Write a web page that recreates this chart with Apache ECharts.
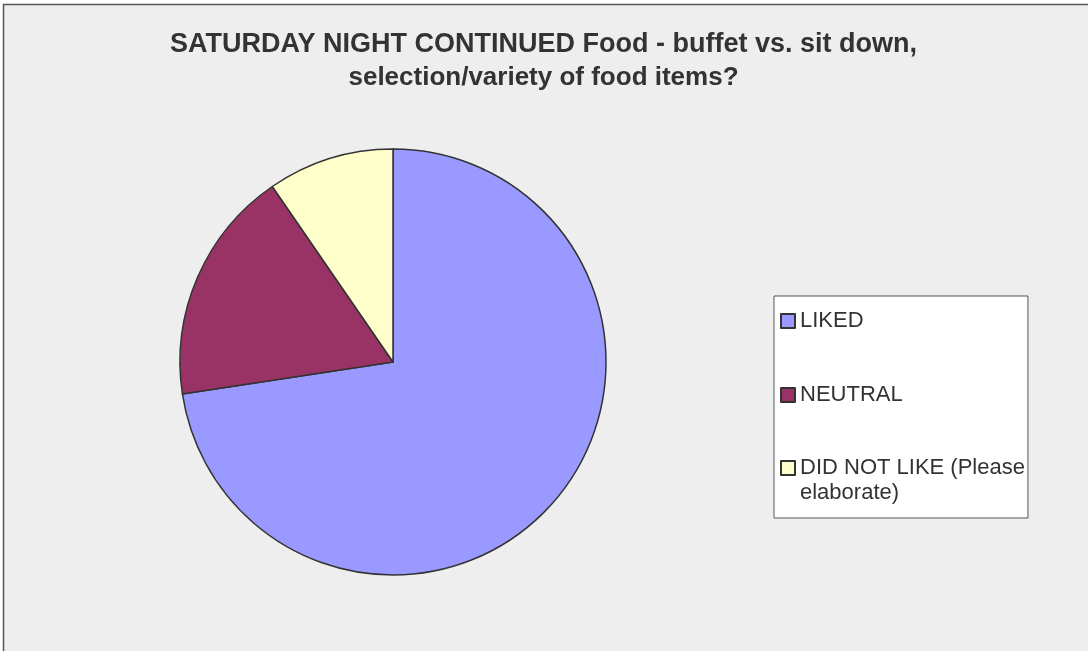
<!DOCTYPE html>
<html>
<head>
<meta charset="utf-8">
<script src="https://cdn.jsdelivr.net/npm/echarts@6/dist/echarts.min.js"></script>
<style>
html,body{margin:0;padding:0;background:#fff;}
#chart{width:1088px;height:651px;}
</style>
</head>
<body>
<div id="chart"></div>
<script>
const titleLines = ['SATURDAY NIGHT CONTINUED Food - buffet vs. sit down,', 'selection/variety of food items?'];
const categories = ['LIKED', 'NEUTRAL', 'DID NOT LIKE (Please elaborate)'];
const legendLines = [['LIKED'], ['NEUTRAL'], ['DID NOT LIKE (Please', 'elaborate)']];
const values = [53, 13, 7];
const colors = ['#9999FF', '#993366', '#FFFFCC'];

const chart = echarts.init(document.getElementById('chart'), null, {renderer: 'canvas'});
const FONT = '"Liberation Sans", Arial, sans-serif';

const data = categories.map((c, i) => ({name: c, value: values[i], itemStyle: {color: colors[i]}}));

// 14x40 icon box: square centred (single line) or aligned with the first of two lines
const iconCentered = 'path://M0,0M14,40M0,13L14,13L14,27L0,27Z';
const iconTop = 'path://M0,0M14,40M0,8L14,8L14,22L0,22Z';
const legendData = categories.map((c, i) => ({
  name: c,
  icon: legendLines[i].length > 1 ? iconTop : iconCentered
}));

function legendFormatter(name) {
  const lines = legendLines[categories.indexOf(name)];
  if (lines.length === 1) return lines[0];
  return '{l1|' + lines[0] + '}\n{l2|' + lines[1] + '}';
}

chart.setOption({
  animation: false,
  backgroundColor: '#ffffff',
  graphic: [{
    type: 'rect', z: -10, silent: true,
    shape: {x: 3.5, y: 4.5, width: 1200, height: 800},
    style: {fill: '#EEEEEE', stroke: '#555555', lineWidth: 1.5}
  }],
  title: {
    text: '{a|' + titleLines[0] + '}\n{b|' + titleLines[1] + '}',
    left: 543.5,
    top: 28,
    textAlign: 'center',
    padding: 0,
    textStyle: {
      fontFamily: FONT, fontSize: 26, fontWeight: 'bold', color: '#333333', lineHeight: 33,
      rich: {
        a: {fontFamily: FONT, fontSize: 27, fontWeight: 'bold', color: '#333333', lineHeight: 33},
        b: {fontFamily: FONT, fontSize: 26, fontWeight: 'bold', color: '#333333', lineHeight: 33}
      }
    }
  },
  legend: {
    orient: 'vertical',
    left: 774,
    top: 296,
    padding: [4, 3, 14, 6],
    itemGap: 32,
    itemWidth: 14,
    itemHeight: 40,
    backgroundColor: '#ffffff',
    borderColor: '#555555',
    borderWidth: 1,
    borderRadius: 0,
    data: legendData,
    formatter: legendFormatter,
    textStyle: {
      fontFamily: FONT, fontSize: 22, color: '#333333', lineHeight: 25,
      rich: {
        l1: {fontFamily: FONT, fontSize: 22, color: '#333333', lineHeight: 40},
        l2: {fontFamily: FONT, fontSize: 22, color: '#333333', lineHeight: 10}
      }
    },
    selectedMode: false
  },
  series: [{
    type: 'pie',
    center: [393, 362],
    radius: [0, 213],
    startAngle: 90,
    clockwise: true,
    label: {show: false},
    labelLine: {show: false},
    itemStyle: {borderColor: '#333333', borderWidth: 1.5},
    emphasis: {disabled: true},
    data: data
  }]
});
</script>
</body>
</html>
